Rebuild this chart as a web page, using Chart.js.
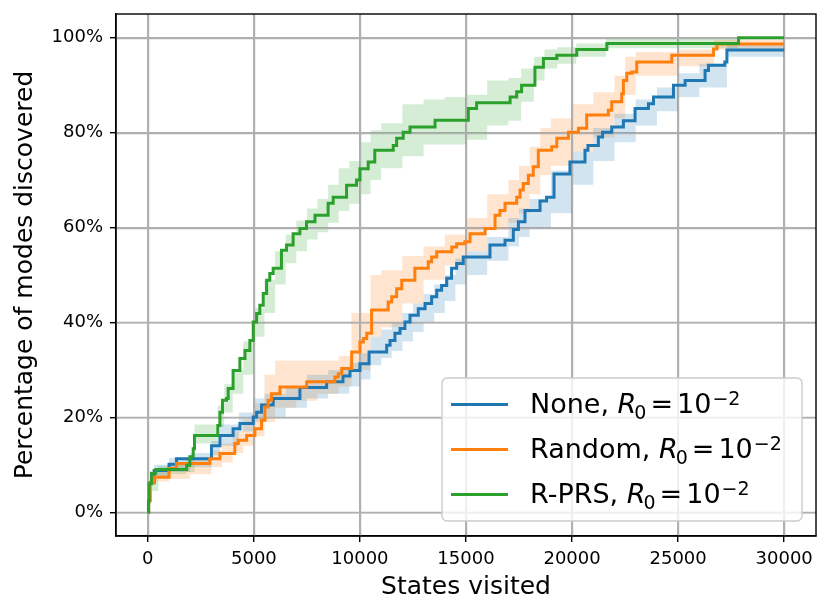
<!DOCTYPE html>
<html>
<head>
<meta charset="utf-8">
<script src="https://cdn.jsdelivr.net/npm/chart.js@4.4.1/dist/chart.umd.min.js"></script>
<style>
  html, body { margin: 0; padding: 0; background: #fff; }
  #wrap { width: 830px; height: 615px; position: relative; }
</style>
</head>
<body>
<div id="wrap"><canvas id="modesChart"></canvas></div>
<script>
// Series: states visited vs. % of modes discovered (step curves, mean over seeds)
const noneX = [0, 40, 100, 300, 1000, 1350, 3000, 3400, 4020, 4340, 4970, 5130, 5360, 5910, 7170, 8430, 9200, 9530, 10000, 10430, 11260, 11420, 11650, 11890, 12120, 12360, 12750, 13070, 13380, 13620, 13850, 14090, 14320, 14560, 14870, 16130, 16840, 17230, 17470, 17780, 18490, 18800, 19150, 19900, 20610, 20750, 21240, 21440, 21870, 22420, 22970, 23600, 23840, 24780, 25330, 26270, 26430, 27200, 27300, 30000];
const noneY = [0, 2.5, 6.2, 8.8, 10.1, 11.3, 14.0, 16.2, 17.6, 18.7, 20.1, 21.1, 22.6, 24.0, 26.3, 27.5, 28.7, 29.9, 31.3, 33.8, 35.2, 36.2, 37.7, 38.7, 40.1, 41.5, 42.9, 44.0, 45.4, 46.8, 47.8, 49.3, 51.4, 52.4, 53.8, 56.3, 57.3, 59.6, 61.2, 63.6, 65.6, 66.4, 71.3, 73.8, 76.3, 77.3, 79.1, 80.1, 81.2, 82.5, 85.1, 86.1, 87.5, 90.0, 91.0, 93.1, 94.2, 94.9, 97.4, 97.4];

const randomX = [0, 40, 100, 300, 1000, 1350, 2920, 3400, 4100, 4260, 4660, 5050, 5360, 5520, 5670, 5830, 6230, 7490, 8820, 8980, 9140, 9610, 10000, 10160, 10320, 10550, 11330, 11500, 11730, 11970, 12590, 13220, 13380, 13620, 14330, 14560, 14950, 15190, 15900, 16370, 16600, 16840, 17390, 17550, 17700, 17940, 18170, 18410, 19040, 19280, 19830, 20300, 20690, 21710, 21870, 22340, 22420, 22580, 22820, 23050, 24700, 26670, 26830, 30000];
const randomY = [0, 2.5, 6.2, 7.4, 9.2, 10.3, 11.3, 12.4, 14.5, 15.2, 16.2, 17.6, 19.4, 22.2, 23.6, 25.0, 26.4, 27.5, 28.5, 29.2, 30.3, 33.8, 35.9, 36.6, 37.7, 42.6, 44.3, 45.4, 47.1, 48.9, 51.4, 52.8, 53.8, 54.9, 55.9, 56.6, 57.0, 58.7, 59.8, 62.6, 63.6, 65.1, 66.4, 67.9, 69.3, 71.0, 72.8, 76.3, 77.0, 78.8, 80.1, 80.9, 83.7, 84.7, 86.5, 88.2, 91.0, 92.5, 92.8, 94.9, 96.3, 97.6, 98.7, 98.7];

const rprsX = [0, 30, 60, 170, 380, 1830, 1980, 2140, 2200, 3300, 3400, 3520, 3710, 3790, 4020, 4340, 4580, 4810, 4970, 5130, 5280, 5440, 5600, 5750, 5910, 6300, 6540, 6850, 7170, 7480, 7880, 8500, 8740, 9370, 9840, 10000, 10390, 10700, 11570, 11730, 12040, 12360, 13540, 15110, 15500, 17080, 17390, 17620, 18250, 18650, 19280, 20220, 21640, 27850, 30000];
const rprsY = [0, 2.2, 6.0, 8.2, 9.0, 9.9, 11.7, 13.4, 16.2, 18.3, 21.1, 23.6, 24.0, 26.1, 29.9, 32.4, 34.1, 36.2, 40.1, 41.9, 43.6, 46.1, 48.9, 50.3, 51.4, 55.2, 56.3, 58.7, 59.8, 61.2, 62.6, 65.1, 66.4, 68.9, 70.0, 72.4, 73.8, 76.3, 77.3, 78.8, 80.1, 81.2, 82.6, 85.1, 86.3, 87.5, 88.6, 90.0, 93.8, 95.6, 96.3, 97.5, 98.8, 100, 100];

// Shaded spread (lower / upper) around each curve
const noneBandX = [0, 300, 1000, 2000, 3000, 3400, 4300, 5000, 5500, 6500, 7500, 8500, 9500, 10000, 10500, 11000, 11500, 12000, 12500, 13000, 13500, 14000, 14500, 15000, 16000, 17000, 17500, 18000, 19000, 20000, 21000, 22000, 23000, 24000, 25000, 26000, 27300, 30000];
const noneHi = [0, 10, 11.5, 12.5, 15, 18.5, 21, 24, 25, 26.5, 29, 30, 31.5, 33.5, 37, 38.5, 40, 42, 44, 46, 48, 50, 53.5, 55, 58, 62, 64, 66, 72, 76, 81, 84, 87, 89.5, 92.5, 94.5, 98.5, 98.5];
const noneLo = [0, 7.5, 8.5, 9.5, 12, 14, 17, 19, 20, 22, 24, 25, 26.5, 28, 31, 32.5, 34, 36, 38, 40, 42, 44.5, 48, 50, 53, 56, 58, 60, 63, 69, 74, 78, 81.5, 84.5, 87.5, 89.5, 96, 96];

const randomBandX = [0, 300, 1000, 2000, 3000, 3500, 4000, 4500, 5000, 5500, 6000, 7000, 8000, 9000, 9600, 10500, 11000, 12000, 13000, 14000, 15000, 16000, 17000, 17500, 18000, 18500, 19000, 20000, 21000, 22000, 22500, 23000, 25000, 26700, 30000];
const randomHi = [0, 8.5, 10, 11.5, 13, 14.5, 17, 19.5, 23, 29, 32, 32, 32, 33, 42, 50, 51, 54, 56, 58.5, 62, 67, 70, 73, 77, 81, 83, 86, 88.5, 92, 96, 97, 97.5, 99.5, 99.5];
const randomLo = [0, 6.5, 7, 8, 9.5, 10.5, 12.5, 14, 16, 19, 22, 23.5, 25, 26.5, 30, 37, 39, 44, 49, 52, 55, 59.5, 61, 63, 67, 71, 73, 76, 79, 83, 88, 92, 94, 97.5, 97.5];

const rprsBandX = [0, 200, 500, 1000, 1800, 2200, 3300, 3600, 4000, 4500, 5000, 5500, 6000, 6500, 7000, 7500, 8000, 8500, 9000, 9500, 10000, 10500, 11000, 12000, 13000, 14000, 15000, 16000, 17000, 17600, 18200, 18700, 19300, 20200, 21600, 27800, 30000];
const rprsHi = [0, 7, 9.8, 10, 11, 18.5, 22.5, 27, 30, 36, 43, 49, 55, 58.5, 61.5, 64, 66, 69, 72.5, 74, 78, 80.5, 82, 86, 87, 87.5, 88, 91, 91.5, 93.5, 96, 97.5, 98, 98.8, 99.8, 100, 100];
const rprsLo = [0, 4.5, 7.5, 8, 8.5, 14.5, 18, 21, 25, 29, 37, 42, 48, 52.5, 55, 57.5, 59, 61, 63.5, 65, 67, 70, 72.5, 75, 77.5, 77.5, 78.5, 81.5, 82.5, 86.5, 91, 93.5, 94.5, 96, 97.8, 100, 100];

const seriesNames = ['None', 'Random', 'R-PRS'];
const seriesColors = ['#1f77b4', '#ff7f0e', '#2ca02c'];
const bandColors = ['rgba(31,119,180,0.2)', 'rgba(255,127,14,0.2)', 'rgba(44,160,44,0.2)'];
const xTicks = [0, 5000, 10000, 15000, 20000, 25000, 30000];
const yTicks = [0, 20, 40, 60, 80, 100];

const FONT = '"DejaVu Sans", "Liberation Sans", sans-serif';

function toPoints(xs, ys) {
    return xs.map((x, i) => ({ x: x, y: ys[i] }));
}

function lineDataset(idx, xs, ys) {
    return {
        label: seriesNames[idx],
        data: toPoints(xs, ys),
        borderColor: seriesColors[idx],
        backgroundColor: seriesColors[idx],
        borderWidth: 3,
        pointRadius: 0,
        stepped: true,
        fill: false,
        order: 2 - idx
    };
}

function bandDatasets(idx, xs, lo, hi) {
    return [{
        label: seriesNames[idx] + ' lo',
        data: toPoints(xs, lo),
        borderColor: 'rgba(0,0,0,0)',
        borderWidth: 0,
        pointRadius: 0,
        stepped: true,
        fill: false,
        order: 10
    }, {
        label: seriesNames[idx] + ' hi',
        data: toPoints(xs, hi),
        borderColor: 'rgba(0,0,0,0)',
        backgroundColor: bandColors[idx],
        borderWidth: 0,
        pointRadius: 0,
        stepped: true,
        fill: '-1',
        order: 10
    }];
}

// grid drawn again above the shaded bands, below the curves (like matplotlib)
const gridOverBands = {
    id: 'gridOverBands',
    beforeDatasetsDraw(chart) {
        const { ctx, chartArea, scales } = chart;
        ctx.save();
        ctx.strokeStyle = '#b0b0b0';
        ctx.lineWidth = 1.4;
        ctx.beginPath();
        xTicks.forEach(v => {
            const px = Math.round(scales.x.getPixelForValue(v)) + 0.5;
            ctx.moveTo(px, chartArea.top);
            ctx.lineTo(px, chartArea.bottom);
        });
        yTicks.forEach(v => {
            const py = Math.round(scales.y.getPixelForValue(v)) + 0.5;
            ctx.moveTo(chartArea.left, py);
            ctx.lineTo(chartArea.right, py);
        });
        ctx.stroke();
        ctx.restore();
    }
};

const frameAndLegend = {
    id: 'frameAndLegend',
    afterDraw(chart) {
        const { ctx, chartArea } = chart;
        ctx.save();
        // full axes frame
        ctx.strokeStyle = '#000';
        ctx.lineWidth = 1.4;
        ctx.strokeRect(chartArea.left, chartArea.top,
            chartArea.right - chartArea.left, chartArea.bottom - chartArea.top);

        // legend box
        const bx = 442, by = 378, bw = 360, bh = 143, r = 5;
        ctx.beginPath();
        ctx.moveTo(bx + r, by);
        ctx.arcTo(bx + bw, by, bx + bw, by + bh, r);
        ctx.arcTo(bx + bw, by + bh, bx, by + bh, r);
        ctx.arcTo(bx, by + bh, bx, by, r);
        ctx.arcTo(bx, by, bx + bw, by, r);
        ctx.closePath();
        ctx.fillStyle = 'rgba(255,255,255,0.8)';
        ctx.fill();
        ctx.strokeStyle = '#cccccc';
        ctx.lineWidth = 1.4;
        ctx.stroke();

        const size = 27, small = 19;
        const baselines = [413, 458, 503];
        ctx.fillStyle = '#000';
        ctx.textBaseline = 'alphabetic';
        ctx.textAlign = 'left';
        seriesNames.forEach((name, i) => {
            const yb = baselines[i];
            ctx.strokeStyle = seriesColors[i];
            ctx.lineWidth = 3;
            ctx.beginPath();
            ctx.moveTo(451, yb - 8.5);
            ctx.lineTo(508, yb - 8.5);
            ctx.stroke();

            let x = 530;
            ctx.font = size + 'px ' + FONT;
            const label = name + ', ';
            ctx.fillText(label, x, yb);
            x += ctx.measureText(label).width;
            ctx.font = 'italic ' + size + 'px ' + FONT;
            ctx.fillText('R', x, yb);
            x += ctx.measureText('R').width - 2;
            ctx.font = small + 'px ' + FONT;
            ctx.fillText('0', x, yb + 6);
            x += ctx.measureText('0').width + 4;
            ctx.font = size + 'px ' + FONT;
            ctx.fillText('=', x, yb);
            x += ctx.measureText('=').width + 4;
            ctx.fillText('10', x, yb);
            x += ctx.measureText('10').width + 1;
            ctx.font = small + 'px ' + FONT;
            ctx.fillText('\u22122', x, yb - 8);
        });
        ctx.restore();
    }
};

function fixScale(s, w, h) {
    if (w) s.width = w;
    if (h) s.height = h;
    s.paddingTop = 0;
    s.paddingBottom = 0;
    s.paddingLeft = 0;
    s.paddingRight = 0;
}

new Chart(document.getElementById('modesChart'), {
    type: 'line',
    data: {
        datasets: [
            lineDataset(0, noneX, noneY),
            lineDataset(1, randomX, randomY),
            lineDataset(2, rprsX, rprsY),
            ...bandDatasets(0, noneBandX, noneLo, noneHi),
            ...bandDatasets(1, randomBandX, randomLo, randomHi),
            ...bandDatasets(2, rprsBandX, rprsLo, rprsHi)
        ]
    },
    options: {
        responsive: true,
        maintainAspectRatio: false,
        animation: false,
        layout: { padding: { top: 14, right: 14, left: 0, bottom: 0 } },
        plugins: {
            legend: { display: false },
            tooltip: { enabled: false },
            filler: { drawTime: 'beforeDatasetsDraw' }
        },
        scales: {
            x: {
                type: 'linear',
                min: -1500,
                max: 31500,
                afterFit: s => fixScale(s, 0, 79),
                afterBuildTicks: s => { s.ticks = xTicks.map(v => ({ value: v })); },
                ticks: {
                    color: '#000',
                    font: { family: FONT, size: 18 },
                    padding: 7,
                    maxRotation: 0,
                    callback: v => String(v)
                },
                grid: { color: '#b0b0b0', lineWidth: 1.4, tickColor: '#000', tickLength: 6, tickWidth: 1.4 },
                border: { color: '#000', width: 1.4 },
                title: {
                    display: true,
                    text: 'States visited',
                    color: '#000',
                    font: { family: FONT, size: 25 },
                    padding: { top: 0, bottom: 13 }
                }
            },
            y: {
                type: 'linear',
                min: -5,
                max: 105,
                afterFit: s => fixScale(s, 116, 0),
                afterBuildTicks: s => { s.ticks = yTicks.map(v => ({ value: v })); },
                ticks: {
                    color: '#000',
                    font: { family: FONT, size: 18 },
                    padding: 7,
                    callback: v => v + '%'
                },
                grid: { color: '#b0b0b0', lineWidth: 1.4, tickColor: '#000', tickLength: 6, tickWidth: 1.4 },
                border: { color: '#000', width: 1.4 },
                title: {
                    display: true,
                    text: 'Percentage of modes discovered',
                    color: '#000',
                    font: { family: FONT, size: 25 },
                    padding: { top: 10, bottom: 0 }
                }
            }
        }
    },
    plugins: [gridOverBands, frameAndLegend]
});
</script>
</body>
</html>
